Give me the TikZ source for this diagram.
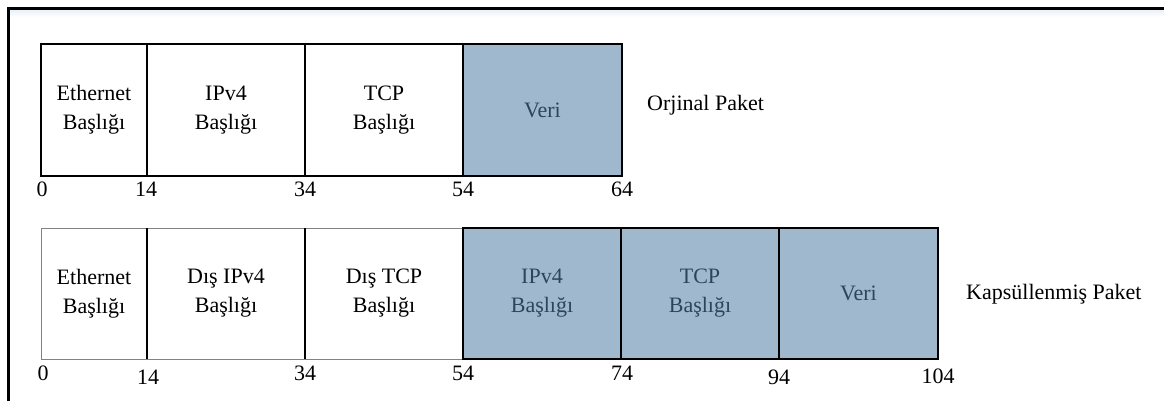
\documentclass[tikz,border=0pt]{standalone}
\usepackage{fontspec}
\setmainfont{Liberation Serif}
\definecolor{payload}{RGB}{160,184,206}
\definecolor{payloadtext}{RGB}{45,68,92}
\definecolor{edgegray}{RGB}{130,130,130}
\definecolor{haze}{RGB}{232,239,247}
\begin{document}
\begin{tikzpicture}[x=1pt,y=-1pt,
  txt/.style={font=\fontsize{22}{29}\selectfont},
  cell/.style={txt, rectangle, inner sep=0pt, outer sep=0pt,
    minimum height=131pt, align=center},
  plain/.style={cell, fill=white},
  carried/.style={cell, fill=payload, text=payloadtext},
  offset/.style={txt, inner sep=0pt},
  outline/.style={draw=black, line width=2pt},
  thinline/.style={draw=edgegray, line width=1pt},
  framing/.style={draw=black, line width=2.2pt}]
\useasboundingbox (0,0) rectangle (1164,401);

% page frame with a faint shade below its top rule
\shade[top color=haze, bottom color=white] (9,9) rectangle (1164,17);
\draw[framing] (8.5,401) -- (8.5,8.5) -- (1164,8.5);

% original packet
\node[plain, minimum width=106pt] (a1) at (94,110) {Ethernet\\Başlığı};
\node[plain, minimum width=158pt] (a2) at (226,110) {IPv4\\Başlığı};
\node[plain, minimum width=158pt] (a3) at (384,110) {TCP\\Başlığı};
\node[carried, minimum width=159pt] (a4) at (542.5,110) {Veri};
\draw[outline] (a1.north west) rectangle (a4.south east);
\foreach \c in {a1,a2,a3} \draw[outline] (\c.north east) -- (\c.south east);

\node[offset] (ta0)  at (42,189)  {0};
\node[offset] (ta14) at (146,189) {14};
\node[offset] (ta34) at (305,189) {34};
\node[offset] (ta54) at (463,189) {54};
\node[offset] (ta64) at (622,189) {64};
\node[txt, anchor=west, inner sep=0pt] (orig) at (647,105) {Orjinal Paket};

% encapsulated packet
\node[plain, minimum width=106pt] (b1) at (94,293.5) {Ethernet\\Başlığı};
\node[plain, minimum width=158pt] (b2) at (226,293.5) {Dış IPv4\\Başlığı};
\node[plain, minimum width=158pt] (b3) at (384,293.5) {Dış TCP\\Başlığı};
\node[carried, minimum width=158pt] (b4) at (542,293.5) {IPv4\\Başlığı};
\node[carried, minimum width=158pt] (b5) at (700,293.5) {TCP\\Başlığı};
\node[carried, minimum width=159pt] (b6) at (858.5,293.5) {Veri};
\draw[thinline] (b3.north east) -- (b1.north west) -- (b1.south west) -- (b3.south east);
\foreach \c in {b1,b2} \draw[outline] (\c.north east) -- (\c.south east);
\draw[outline] (b4.north west) rectangle (b6.south east);
\foreach \c in {b4,b5} \draw[outline] (\c.north east) -- (\c.south east);

\node[offset] (tb0)   at (43,373)  {0};
\node[offset] (tb14)  at (148,377) {14};
\node[offset] (tb34)  at (305,373) {34};
\node[offset] (tb54)  at (463,373) {54};
\node[offset] (tb74)  at (622,373) {74};
\node[offset] (tb94)  at (779,377) {94};
\node[offset] (tb104) at (938,376) {104};
\node[txt, anchor=west, inner sep=0pt] (encap) at (966,294) {Kapsüllenmiş Paket};
\end{tikzpicture}
\end{document}
